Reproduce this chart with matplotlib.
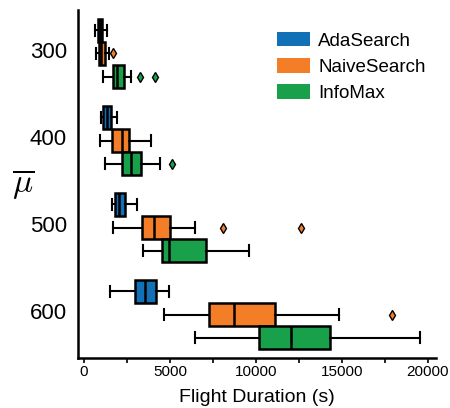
import matplotlib
matplotlib.use("Agg")
import matplotlib.pyplot as plt
from matplotlib.patches import Patch

plt.rcParams['font.family'] = ['Liberation Sans', 'DejaVu Sans']
plt.rcParams['mathtext.fontset'] = 'cm'

mu_levels = ["300", "400", "500", "600"]
methods = ["AdaSearch", "NaiveSearch", "InfoMax"]
colors = ["#1170b6", "#f47e27", "#19a04a"]

# box statistics per method, per mu level: [whislo, q1, med, q3, whishi]
ada_stats = [
    [625, 815, 940, 1070, 1360],
    [990, 1125, 1325, 1575, 1940],
    [1650, 1825, 2040, 2375, 3110],
    [1515, 2955, 3555, 4180, 4975],
]
naive_stats = [
    [715, 875, 1010, 1240, 1440],
    [915, 1630, 2235, 2625, 3890],
    [1690, 3400, 4065, 5030, 6490],
    [4685, 7250, 8710, 11100, 14830],
]
info_stats = [
    [1110, 1690, 1940, 2335, 2720],
    [1205, 2215, 2760, 3345, 4415],
    [3440, 4565, 4940, 7100, 9585],
    [6435, 10205, 12060, 14290, 19540],
]
ada_fliers = [[], [], [], []]
naive_fliers = [[1690], [], [8090, 12620], [17890]]
info_fliers = [[3285, 4120], [5130], [], []]

all_stats = [ada_stats, naive_stats, info_stats]
all_fliers = [ada_fliers, naive_fliers, info_fliers]

fig = plt.figure(figsize=(4.5, 4.08), dpi=100)
ax = fig.add_axes([0.173, 0.1225, 0.795, 0.853])

w = 0.8 / 3
for m in range(3):
    bstats = []
    for i in range(len(mu_levels)):
        s = all_stats[m][i]
        bstats.append(dict(whislo=s[0], q1=s[1], med=s[2], q3=s[3], whishi=s[4],
                           fliers=all_fliers[m][i]))
    pos = [i + (m - 1) * w for i in range(len(mu_levels))]
    ax.bxp(bstats, positions=pos, widths=w * 0.98, vert=False, patch_artist=True,
           showfliers=True,
           boxprops=dict(facecolor=colors[m], edgecolor='black', linewidth=1.8),
           medianprops=dict(color='black', linewidth=1.8),
           whiskerprops=dict(color='black', linewidth=1.5),
           capprops=dict(color='black', linewidth=1.5),
           flierprops=dict(marker='d', markerfacecolor=colors[m], markeredgecolor='black',
                           markersize=5, markeredgewidth=1.0, linestyle='none'),
           manage_ticks=False)

ax.set_ylim(3.5, -0.5)
ax.set_xlim(-350, 20450)
# labels sit slightly above the group centre (tick marks are hidden)
ax.set_yticks([i - 0.045 for i in range(len(mu_levels))])
ax.set_yticklabels(mu_levels, fontsize=16)
ax.set_xticks([0, 5000, 10000, 15000, 20000])
ax.set_xticks([2500, 7500, 12500, 17500], minor=True)
ax.tick_params(axis='x', which='both', length=3.5, width=1.2, labelsize=11, pad=1.5)
ax.tick_params(axis='y', length=0, pad=8)
for side in ['top', 'right']:
    ax.spines[side].set_visible(False)
for side in ['left', 'bottom']:
    ax.spines[side].set_linewidth(1.8)

ax.set_xlabel("Flight Duration (s)", fontsize=14, labelpad=7)
ax.set_ylabel(r"$\overline{\mu}$", fontsize=24, rotation=0, va='center', ha='center')
ax.yaxis.set_label_coords(-0.152, 0.5)

handles = [Patch(facecolor=c, edgecolor='none', label=l) for c, l in zip(colors, methods)]
ax.legend(handles=handles, loc='upper right', frameon=False, fontsize=13.5,
          handlelength=1.75, handleheight=0.8, handletextpad=0.45, labelspacing=0.45,
          bbox_to_anchor=(1.02, 0.985))

fig.savefig("out.png", dpi=100)
